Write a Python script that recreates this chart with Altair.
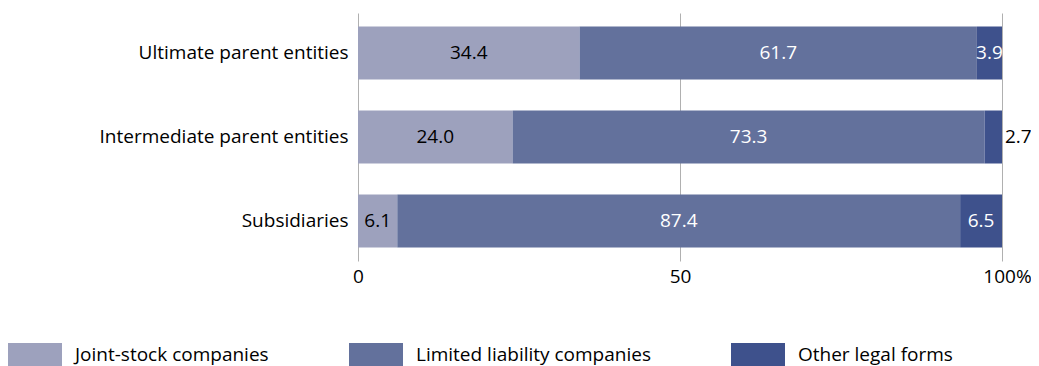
import altair as alt
import pandas as pd

entities = ["Ultimate parent entities", "Intermediate parent entities", "Subsidiaries"]
forms = ["Joint-stock companies", "Limited liability companies", "Other legal forms"]
joint_stock = [34.4, 24.0, 6.1]
limited_liability = [61.7, 73.3, 87.4]
other_forms = [3.9, 2.7, 6.5]
colors = ["#9da1bd", "#63719c", "#3e518c"]
x_ticks = [0, 50, 100]

rows = []
for i, e in enumerate(entities):
    for j, (f, vals) in enumerate(zip(forms, [joint_stock, limited_liability, other_forms])):
        rows.append({"entity": e, "form": f, "value": vals[i], "order": j})
df = pd.DataFrame(rows)

FONT = "Open Sans"
FS = 19

base = alt.Chart(df).transform_stack(
    stack="value", groupby=["entity"], as_=["v0", "v1"],
    sort=[alt.SortField("order", order="ascending")]
).transform_calculate(mid="(datum.v0 + datum.v1) / 2")

y_enc = alt.Y("entity:N", sort=entities, title=None,
              scale=alt.Scale(paddingInner=0.368, paddingOuter=0.16),
              axis=alt.Axis(domain=False, ticks=False, labelFontSize=FS, labelFont=FONT,
                            labelColor="#000000", labelPadding=10, labelLimit=400))

bars = base.mark_bar().encode(
    x=alt.X("v0:Q", title=None,
            scale=alt.Scale(domain=[0, 100], nice=False),
            axis=alt.Axis(values=x_ticks, domain=False, ticks=False, grid=True,
                          gridColor="#b0b0b0", gridWidth=1, labelFlush=False,
                          labelFontSize=FS, labelFont=FONT, labelColor="#000000",
                          labelPadding=6,
                          labelExpr="datum.value == 100 ? '100%' : datum.label",
                          labelOffset={"condition": {"test": "datum.value == 100", "value": 5}, "value": 0})),
    x2="v1:Q",
    y=y_enc,
    color=alt.Color("form:N", sort=forms,
                    scale=alt.Scale(domain=forms, range=colors),
                    legend=alt.Legend(title=None, orient="none", direction="horizontal",
                                      legendX=-350, legendY=315, columns=3,
                                      symbolType="M-1,-0.444L1,-0.444L1,0.444L-1,0.444Z",
                                      symbolSize=2916, symbolStrokeWidth=0, symbolOpacity=1,
                                      labelFontSize=FS, labelFont=FONT, labelColor="#000000",
                                      labelOffset=13, columnPadding=80, padding=0,
                                      labelLimit=400)),
    order=alt.Order("order:Q"),
)

inside = base.transform_filter("datum.value >= 3").mark_text(
    font=FONT, fontSize=FS, align="center", baseline="middle"
).encode(
    x="mid:Q",
    y=alt.Y("entity:N", sort=entities),
    text=alt.Text("value:Q", format=".1f"),
    color=alt.condition("datum.form == 'Joint-stock companies'", alt.value("#000000"), alt.value("#ffffff")),
)

outside = base.transform_filter("datum.value < 3").mark_text(
    font=FONT, fontSize=FS, align="left", baseline="middle", dx=3, color="#000000"
).encode(
    x="v1:Q",
    y=alt.Y("entity:N", sort=entities),
    text=alt.Text("value:Q", format=".1f"),
)

chart = alt.layer(bars, inside, outside).properties(
    width=644, height=248,
    autosize=alt.AutoSizeParams(type="none"),
    padding={"left": 350, "top": 5, "right": 29, "bottom": 110},
).configure_view(stroke=None)

chart.save("out.html", embed_options={"renderer": "svg", "actions": False})
